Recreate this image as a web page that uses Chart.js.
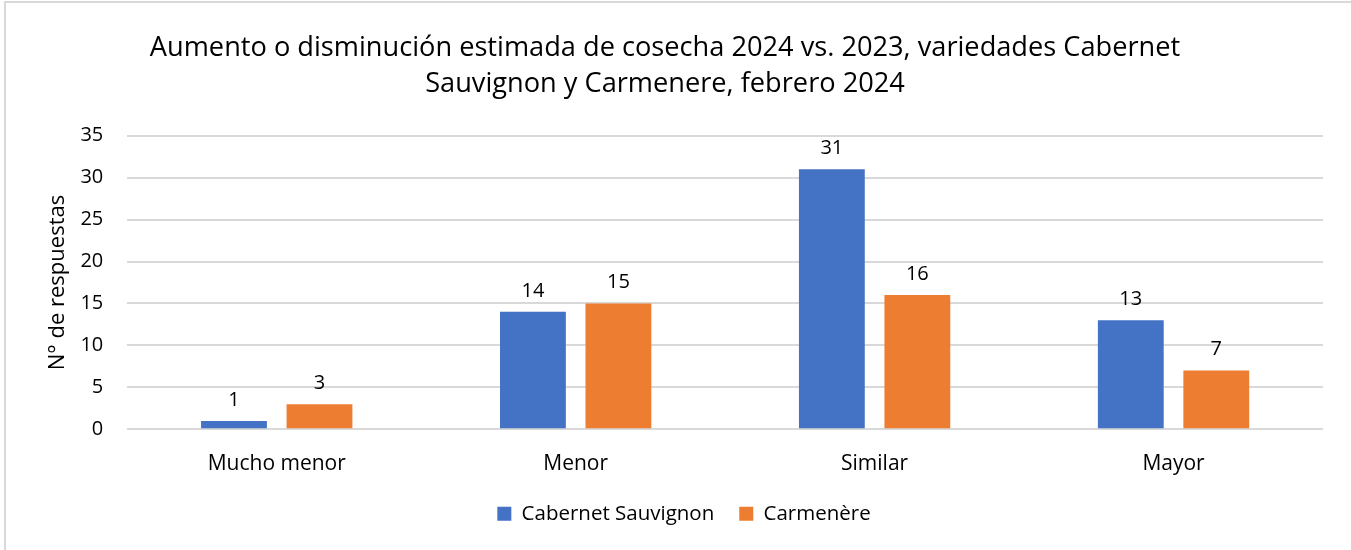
<!DOCTYPE html>
<html>
<head>
<meta charset="utf-8">
<script src="https://cdn.jsdelivr.net/npm/chart.js@4.4.1/dist/chart.umd.min.js"></script>
<style>
  body { margin: 0; background: #fff; }
  #frame { position: absolute; left: 4px; top: 1px; width: 1400px; height: 600px; border: 2px solid #d9d9d9; }
  #wrap { position: absolute; left: 0; top: 0; width: 1351px; height: 550px; }
</style>
</head>
<body>
<div id="frame"></div>
<div id="wrap"><canvas id="myChart" width="1351" height="550"></canvas></div>
<script>
const categories = ['Mucho menor', 'Menor', 'Similar', 'Mayor'];
const cabernet = [1, 14, 31, 13];
const carmenere = [3, 15, 16, 7];
const yTicks = [0, 5, 10, 15, 20, 25, 30, 35];

const FONT = '"Open Sans", sans-serif';

// draws the value above each bar
const barLabels = {
  id: 'barLabels',
  afterDatasetsDraw(chart) {
    const c = chart.ctx;
    c.save();
    c.font = '20px ' + FONT;
    c.fillStyle = '#000';
    c.textAlign = 'center';
    c.textBaseline = 'bottom';
    chart.data.datasets.forEach((ds, i) => {
      chart.getDatasetMeta(i).data.forEach((bar, j) => {
        c.fillText(ds.data[j], bar.x, bar.y - 11);
      });
    });
    c.restore();
  }
};

// title sits a bit left of the centre in the original
const shiftTitle = {
  id: 'shiftTitle',
  afterLayout(chart) {
    chart.titleBlock.left -= 19;
    chart.titleBlock.right -= 19;
  }
};

const ctx = document.getElementById('myChart');

new Chart(ctx, {
  type: 'bar',
  data: {
    labels: categories,
    datasets: [{
      label: 'Cabernet Sauvignon',
      data: cabernet,
      backgroundColor: '#4472C4',
      categoryPercentage: 0.572,
      barPercentage: 0.77
    }, {
      label: 'Carmenère',
      data: carmenere,
      backgroundColor: '#ED7D31',
      categoryPercentage: 0.572,
      barPercentage: 0.77
    }]
  },
  options: {
    responsive: false,
    animation: false,
    layout: {
      padding: { left: 45, right: 28, top: 0, bottom: 16 }
    },
    plugins: {
      title: {
        display: true,
        text: ['Aumento o disminución estimada de cosecha 2024 vs. 2023, variedades Cabernet', 'Sauvignon y Carmenere, febrero 2024'],
        color: '#000',
        font: { family: FONT, size: 27.2, weight: 'normal', lineHeight: 1.3 },
        padding: { top: 31, bottom: 34 }
      },
      legend: {
        position: 'bottom',
        labels: {
          color: '#000',
          boxWidth: 14,
          boxHeight: 14,
          padding: 25,
          font: { family: FONT, size: 20.5 }
        }
      },
      tooltip: { enabled: false }
    },
    scales: {
      x: {
        afterFit(axis) { axis.height -= 12; },
        grid: { display: false },
        border: { display: false },
        ticks: { color: '#000', font: { family: FONT, size: 21 }, padding: 14 }
      },
      y: {
        min: 0,
        max: 35,
        afterBuildTicks(axis) { axis.ticks = yTicks.map(v => ({ value: v })); },
        afterFit(axis) { axis.width -= 15; },
        grid: { color: '#d9d9d9', lineWidth: 2, drawTicks: false },
        border: { display: false },
        ticks: { color: '#000', font: { family: FONT, size: 20 }, padding: 24 },
        title: {
          display: true,
          text: 'N° de respuestas',
          color: '#000',
          font: { family: FONT, size: 22 },
          padding: 0
        }
      }
    }
  },
  plugins: [barLabels, shiftTitle]
});
</script>
</body>
</html>
